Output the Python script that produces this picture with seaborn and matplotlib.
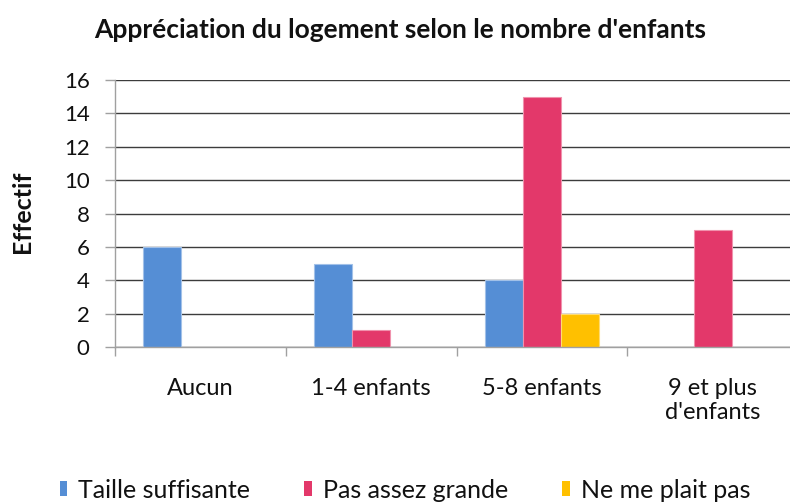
import matplotlib
matplotlib.use('Agg')
import matplotlib.pyplot as plt
import matplotlib.colors as mcolors
import seaborn as sns
import pandas as pd

# ---- data ----
categories = ["Aucun", "1-4 enfants", "5-8 enfants", "9 et plus\nd'enfants"]
series = ["Taille suffisante", "Pas assez grande", "Ne me plait pas"]
taille_suffisante = [6, 5, 4, 0]
pas_assez_grande = [0, 1, 15, 7]
ne_me_plait_pas = [0, 0, 2, 0]
y_ticks = [0, 2, 4, 6, 8, 10, 12, 14, 16]
colors = ["#558ED5", "#E3386A", "#FFC000"]
title = "Appréciation du logement selon le nombre d'enfants"
ylabel = "Effectif"

sns.set_theme(style="white")
plt.rcParams['font.family'] = ['Lato', 'DejaVu Sans']

rows = []
for s, vals in zip(series, [taille_suffisante, pas_assez_grande, ne_me_plait_pas]):
    for c, v in zip(categories, vals):
        rows.append({"cat": c, "serie": s, "val": v})
df = pd.DataFrame(rows)

W, H = 790, 504
fig = plt.figure(figsize=(W / 100, H / 100), dpi=100)
fig.patch.set_facecolor("white")
ax = fig.add_axes([115 / W, 1 - 347 / H, 683 / W, 267 / H])

sns.barplot(data=df, x="cat", y="val", hue="serie", order=categories,
            hue_order=series, palette=colors, saturation=1, width=0.667, gap=0,
            errorbar=None, linewidth=0, ax=ax)

# subtle lighter outline like the original
for p in ax.patches:
    if p.get_height() > 0:
        fc = mcolors.to_rgb(p.get_facecolor())
        light = tuple(c + (1 - c) * 0.45 for c in fc)
        p.set_edgecolor(light)
        p.set_linewidth(0.8)

handles, labels = ax.get_legend_handles_labels()
if ax.legend_ is not None:
    ax.legend_.remove()

ax.set_xlim(-0.5, 3.5)
ax.set_ylim(0, 16)
ax.set_yticks(y_ticks)
ax.set_yticklabels([str(t) for t in y_ticks])
ax.set_xlabel("")
ax.set_ylabel("")

ax.yaxis.grid(True, color="#3C3C3C", linewidth=1.0)
ax.xaxis.grid(False)
ax.set_axisbelow(True)

for side in ["top", "right"]:
    ax.spines[side].set_visible(False)
for side in ["left", "bottom"]:
    ax.spines[side].set_color("#A0A0A0")
    ax.spines[side].set_linewidth(1.0)

# x ticks: major at boundaries, labels on minor ticks at centers
ax.set_xticks([-0.5, 0.5, 1.5, 2.5, 3.5])
ax.set_xticklabels([])
ax.set_xticks([0, 1, 2, 3], minor=True)
ax.set_xticklabels(categories, minor=True, fontsize=17, color="#111111")
ax.tick_params(axis="x", which="major", length=6.5, width=1, color="#A0A0A0", bottom=True)
ax.tick_params(axis="x", which="minor", length=0, pad=22, bottom=True)
ax.tick_params(axis="y", which="major", length=7.2, width=1, color="#A0A0A0",
               labelsize=16, pad=11, left=True, labelcolor="#111111")

fig.text(400 / W, 1 - 30 / H, title, ha="center", va="center",
         fontsize=19, fontweight="bold", color="#111111")
fig.text(23 / W, 1 - 212 / H, ylabel, ha="center", va="center", rotation=90,
         fontsize=18, fontweight="bold", color="#111111")

fig.legend(handles, labels, loc="center", bbox_to_anchor=(405 / W, 1 - 490 / H),
           ncol=3, frameon=False, fontsize=18, handlelength=0.3, handleheight=0.55,
           handletextpad=0.45, columnspacing=2.15, labelcolor="#111111")

fig.savefig("out.png", dpi=100, facecolor="white")
